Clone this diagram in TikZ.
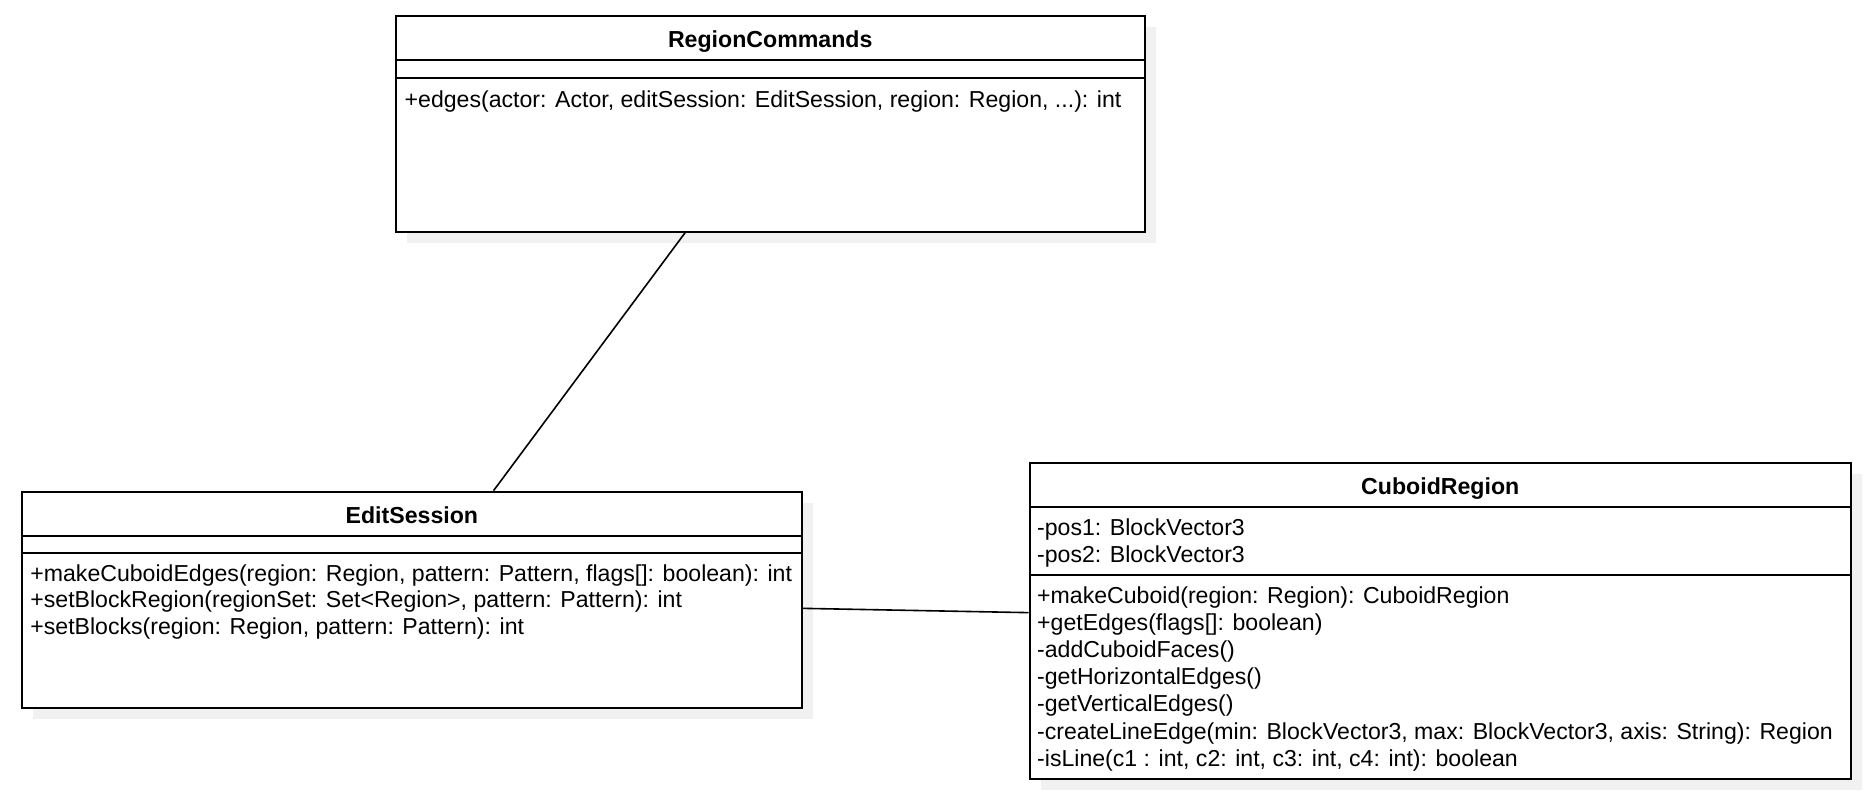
\documentclass[tikz,border=0pt]{standalone}
\usepackage{fontspec}
\setmainfont{Liberation Sans}
\usetikzlibrary{calc}
\definecolor{shadowgray}{RGB}{241,241,241}
\begin{document}
\begin{tikzpicture}[x=1pt,y=-1pt,
  classbox/.style={draw=black, line width=2pt, fill=white, inner sep=0pt, anchor=north west},
  shadowbox/.style={fill=shadowgray, draw=none, inner sep=0pt, anchor=north west},
  sepline/.style={line width=2pt},
  assoc/.style={line width=1.6pt},
  title/.style={font=\fontsize{23.15}{27}\selectfont\bfseries, inner sep=0pt, anchor=base},
  member/.style={font=\fontsize{23.1}{27}\selectfont, inner sep=0pt, anchor=base west}]
\useasboundingbox (0,0) rectangle (1872,802);

% shadows
\node[shadowbox, minimum width=749.5pt, minimum height=215.7pt] (rcs) at (406.5,27) {};
\node[shadowbox, minimum width=780.3pt, minimum height=216.3pt] (ess) at (32.7,502.7) {};
\node[shadowbox, minimum width=821.5pt, minimum height=316pt] (crs) at (1040.5,474) {};

% boxes
\node[classbox, minimum width=749.5pt, minimum height=215.7pt] (rc) at (394.5,15) {};
\node[classbox, minimum width=780.3pt, minimum height=216.3pt] (es) at (20.7,490.7) {};
\node[classbox, minimum width=821.5pt, minimum height=316pt] (cr) at (1028.5,462) {};

% compartment separators
\draw[sepline] ($(rc.north west)+(0,45.5)$) -- ($(rc.north east)+(0,45.5)$);
\draw[sepline] ($(rc.north west)+(0,63.5)$) -- ($(rc.north east)+(0,63.5)$);
\draw[sepline] ($(es.north west)+(0,44.8)$) -- ($(es.north east)+(0,44.8)$);
\draw[sepline] ($(es.north west)+(0,62.3)$) -- ($(es.north east)+(0,62.3)$);
\draw[sepline] ($(cr.north west)+(0,44.7)$) -- ($(cr.north east)+(0,44.7)$);
\draw[sepline] ($(cr.north west)+(0,112.7)$) -- ($(cr.north east)+(0,112.7)$);

% titles
\node[title] (rct) at ($(rc.north)+(0,32.4)$) {RegionCommands};
\node[title] (est) at ($(es.north)+(0,33)$) {EditSession};
\node[title] (crt) at ($(cr.north)+(0,32)$) {CuboidRegion};

% members
\node[member] (rcm1) at ($(rc.north west)+(10,92.2)$) {+edges(actor: Actor, editSession: EditSession, region: Region, ...): int};

\node[member] (esm1) at ($(es.north west)+(9.5,90.3)$) {+makeCuboidEdges(region: Region, pattern: Pattern, flags[]: boolean): int};
\node[member] (esm2) at ($(es.north west)+(9.5,117)$) {+setBlockRegion(regionSet: Set<Region>, pattern: Pattern): int};
\node[member] (esm3) at ($(es.north west)+(9.5,143.7)$) {+setBlocks(region: Region, pattern: Pattern): int};

\node[member] (cra1) at ($(cr.north west)+(8.5,73)$) {-pos1: BlockVector3};
\node[member] (cra2) at ($(cr.north west)+(8.5,100)$) {-pos2: BlockVector3};

\foreach \t [count=\i] in {%
  {+makeCuboid(region: Region): CuboidRegion},
  {+getEdges(flags[]: boolean)},
  {-addCuboidFaces()},
  {-getHorizontalEdges()},
  {-getVerticalEdges()},
  {-createLineEdge(min: BlockVector3, max: BlockVector3, axis: String): Region},
  {-isLine(c1 : int, c2: int, c3: int, c4: int): boolean}}
  \node[member] (crm\i) at ($(cr.north west)+(8.5,141.5+27.1*\i-27.1)$) {\t};

% associations
\draw[assoc] ($(rc.south west)!0.3867!(rc.south east)$) -- ($(es.north west)!0.6044!(es.north east)$);
\draw[assoc] ($(es.north east)!0.539!(es.south east)$) -- ($(cr.north west)!0.4737!(cr.south west)$);
\end{tikzpicture}
\end{document}
